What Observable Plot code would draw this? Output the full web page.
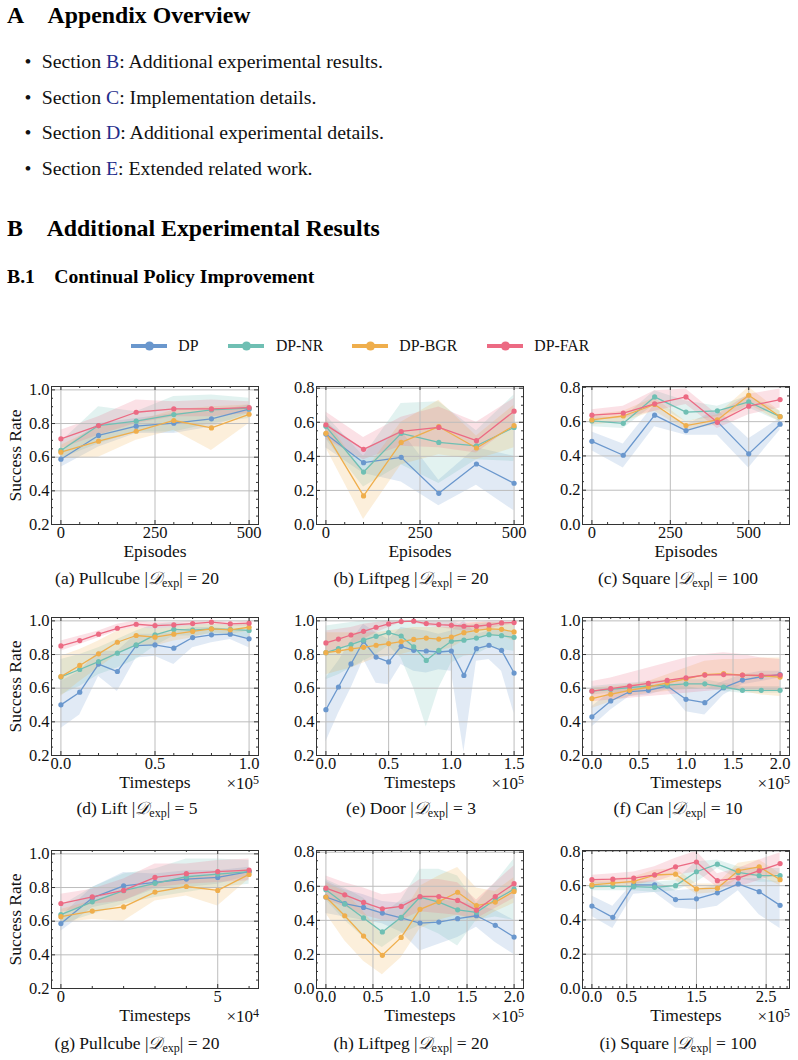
<!DOCTYPE html>
<html><head><meta charset="utf-8">
<script src="https://cdn.jsdelivr.net/npm/d3@7"></script>
<script src="https://cdn.jsdelivr.net/npm/@observablehq/plot@0.6"></script>
<style>
body{margin:0;background:#fff;}
#page{position:relative;width:798px;height:1060px;font-family:"Liberation Serif","Times New Roman",serif;color:#111;overflow:hidden;}
.abs{position:absolute;white-space:nowrap;line-height:1;}
.h1{font-weight:bold;font-size:23.8px;color:#000;}
.h2{font-weight:bold;font-size:19.7px;color:#000;}
.bl{font-size:19.8px;color:#111;}
.lk{color:#1f2d8c;}
.cap{font-size:17.5px;transform:translateX(-50%);}
.cap sub{font-size:12px;vertical-align:-3px;line-height:0;}
.mult{font-size:17px;transform:translateX(-100%);}
.mult sup{font-size:12px;vertical-align:5px;line-height:0;}
.leg{font-size:15.8px;display:flex;align-items:center;}
.leg svg{display:block;}
</style></head><body><div id="page"></div>
<script>
// ---------------- data ----------------
const seriesNames = ["DP", "DP-NR", "DP-BGR", "DP-FAR"];
const seriesColors = ["#6a97cd", "#6fbfb3", "#efae4c", "#ec6a83"];

// each entry: [mean, lower, upper]
const xA = [0, 100, 200, 300, 400, 500];
const aDP  = [[0.588,0.54,0.64],[0.729,0.66,0.80],[0.784,0.74,0.83],[0.802,0.74,0.86],[0.828,0.78,0.87],[0.885,0.86,0.91]];
const aNR  = [[0.640,0.59,0.69],[0.788,0.68,0.90],[0.814,0.75,0.87],[0.853,0.75,0.96],[0.881,0.80,0.97],[0.891,0.83,0.95]];
const aBGR = [[0.630,0.59,0.67],[0.695,0.60,0.78],[0.754,0.70,0.81],[0.818,0.76,0.88],[0.774,0.64,0.90],[0.855,0.80,0.91]];
const aFAR = [[0.709,0.65,0.76],[0.788,0.73,0.84],[0.867,0.80,0.94],[0.887,0.84,0.93],[0.887,0.84,0.94],[0.895,0.86,0.93]];

const xB = [0, 100, 200, 300, 400, 500];
const bDP  = [[0.531,0.45,0.60],[0.363,0.30,0.44],[0.394,0.25,0.55],[0.183,0.11,0.26],[0.355,0.23,0.45],[0.242,0.08,0.40]];
const bNR  = [[0.576,0.50,0.64],[0.308,0.22,0.40],[0.535,0.35,0.71],[0.482,0.24,0.72],[0.462,0.38,0.55],[0.570,0.37,0.76]];
const bBGR = [[0.535,0.45,0.62],[0.168,0.03,0.30],[0.482,0.35,0.60],[0.574,0.41,0.73],[0.449,0.38,0.52],[0.580,0.45,0.70]];
const bFAR = [[0.585,0.50,0.66],[0.441,0.38,0.51],[0.546,0.46,0.63],[0.570,0.45,0.69],[0.492,0.42,0.60],[0.665,0.58,0.74]];

const xC = [0, 100, 200, 300, 400, 500, 600];
const cDP  = [[0.485,0.43,0.54],[0.404,0.33,0.47],[0.638,0.57,0.70],[0.548,0.52,0.58],[0.600,0.52,0.67],[0.412,0.33,0.50],[0.585,0.55,0.62]];
const cNR  = [[0.604,0.57,0.63],[0.590,0.56,0.62],[0.744,0.70,0.78],[0.656,0.60,0.72],[0.663,0.63,0.69],[0.715,0.68,0.75],[0.629,0.60,0.66]];
const cBGR = [[0.610,0.58,0.64],[0.633,0.60,0.66],[0.700,0.66,0.74],[0.577,0.55,0.60],[0.610,0.58,0.64],[0.754,0.70,0.80],[0.629,0.60,0.66]];
const cFAR = [[0.638,0.61,0.67],[0.650,0.62,0.69],[0.704,0.66,0.78],[0.744,0.70,0.79],[0.596,0.56,0.64],[0.690,0.64,0.76],[0.729,0.68,0.79]];

const xD = [0, 0.1, 0.2, 0.3, 0.4, 0.5, 0.6, 0.7, 0.8, 0.9, 1.0];
const dDP  = [[0.501,0.36,0.64],[0.576,0.44,0.70],[0.743,0.67,0.82],[0.699,0.58,0.82],[0.853,0.78,0.92],[0.857,0.79,0.92],[0.838,0.74,0.93],[0.901,0.84,0.96],[0.917,0.87,0.96],[0.921,0.89,0.95],[0.893,0.84,0.94]];
const dNR  = [[0.667,0.56,0.77],[0.711,0.61,0.80],[0.758,0.68,0.84],[0.808,0.72,0.89],[0.857,0.77,0.94],[0.917,0.85,0.98],[0.949,0.91,0.99],[0.945,0.91,0.98],[0.952,0.92,0.98],[0.949,0.91,0.98],[0.943,0.90,0.98]];
const dBGR = [[0.669,0.55,0.79],[0.735,0.64,0.83],[0.804,0.72,0.88],[0.873,0.80,0.94],[0.913,0.86,0.96],[0.903,0.85,0.95],[0.921,0.88,0.96],[0.937,0.90,0.97],[0.952,0.93,0.98],[0.947,0.92,0.97],[0.962,0.94,0.98]];
const dFAR = [[0.851,0.82,0.88],[0.883,0.86,0.91],[0.921,0.90,0.94],[0.956,0.94,0.98],[0.980,0.96,1.00],[0.972,0.95,0.99],[0.976,0.96,0.99],[0.984,0.97,1.00],[0.992,0.98,1.00],[0.982,0.97,0.99],[0.986,0.97,1.00]];

const xE = [0, 0.1, 0.2, 0.3, 0.4, 0.5, 0.6, 0.7, 0.8, 0.9, 1.0, 1.1, 1.2, 1.3, 1.4, 1.5];
const eDP  = [[0.472,0.28,0.66],[0.607,0.45,0.76],[0.744,0.60,0.88],[0.879,0.77,0.98],[0.785,0.63,0.93],[0.756,0.62,0.89],[0.849,0.74,0.96],[0.825,0.70,0.95],[0.821,0.69,0.94],[0.815,0.71,0.92],[0.821,0.70,0.94],[0.676,0.22,1.00],[0.835,0.76,0.92],[0.855,0.77,0.94],[0.825,0.70,0.95],[0.690,0.45,0.93]];
const eNR  = [[0.811,0.65,0.97],[0.835,0.68,0.98],[0.859,0.72,0.99],[0.885,0.76,1.00],[0.908,0.80,1.00],[0.930,0.85,1.00],[0.910,0.78,1.00],[0.845,0.60,1.00],[0.765,0.37,1.00],[0.825,0.60,1.00],[0.879,0.75,1.00],[0.885,0.79,0.97],[0.898,0.80,0.98],[0.918,0.84,0.99],[0.912,0.83,0.99],[0.902,0.82,0.98]];
const eBGR = [[0.811,0.68,0.93],[0.821,0.70,0.93],[0.833,0.72,0.93],[0.843,0.75,0.93],[0.855,0.78,0.93],[0.865,0.79,0.94],[0.877,0.80,0.95],[0.890,0.82,0.96],[0.898,0.83,0.96],[0.892,0.82,0.96],[0.904,0.84,0.96],[0.930,0.88,0.98],[0.944,0.90,0.99],[0.952,0.91,0.99],[0.950,0.91,0.99],[0.934,0.88,0.98]];
const eFAR = [[0.869,0.80,0.94],[0.892,0.83,0.95],[0.916,0.86,0.96],[0.938,0.89,0.98],[0.962,0.93,0.99],[0.982,0.96,1.00],[0.996,0.99,1.00],[0.998,0.99,1.00],[0.984,0.97,1.00],[0.978,0.96,1.00],[0.974,0.95,1.00],[0.968,0.94,0.99],[0.968,0.94,0.99],[0.976,0.95,1.00],[0.988,0.97,1.00],[0.990,0.98,1.00]];

const xF = [0, 0.2, 0.4, 0.6, 0.8, 1.0, 1.2, 1.4, 1.6, 1.8, 2.0];
const fDP  = [[0.430,0.37,0.49],[0.524,0.47,0.58],[0.579,0.55,0.61],[0.587,0.56,0.61],[0.613,0.59,0.63],[0.534,0.46,0.61],[0.514,0.44,0.59],[0.603,0.56,0.64],[0.648,0.62,0.68],[0.668,0.64,0.70],[0.681,0.66,0.70]];
const fNR  = [[0.583,0.56,0.61],[0.593,0.57,0.62],[0.603,0.58,0.63],[0.613,0.59,0.64],[0.618,0.59,0.65],[0.626,0.60,0.65],[0.626,0.60,0.65],[0.607,0.58,0.63],[0.587,0.57,0.61],[0.587,0.57,0.61],[0.587,0.57,0.61]];
const fBGR = [[0.538,0.48,0.60],[0.564,0.52,0.61],[0.587,0.55,0.62],[0.607,0.57,0.64],[0.632,0.58,0.68],[0.656,0.59,0.72],[0.681,0.60,0.76],[0.687,0.60,0.77],[0.678,0.58,0.77],[0.674,0.56,0.78],[0.666,0.55,0.78]];
const fFAR = [[0.583,0.52,0.64],[0.597,0.53,0.66],[0.613,0.54,0.69],[0.628,0.55,0.72],[0.646,0.56,0.75],[0.662,0.57,0.78],[0.678,0.58,0.80],[0.681,0.59,0.81],[0.678,0.59,0.80],[0.676,0.59,0.78],[0.678,0.58,0.77]];

const xG = [0, 1, 2, 3, 4, 5, 6];
const gDP  = [[0.586,0.54,0.63],[0.738,0.68,0.80],[0.810,0.72,0.89],[0.831,0.79,0.88],[0.850,0.80,0.90],[0.860,0.82,0.90],[0.895,0.87,0.92]];
const gNR  = [[0.639,0.58,0.69],[0.715,0.64,0.80],[0.781,0.70,0.88],[0.825,0.74,0.91],[0.864,0.77,0.97],[0.880,0.80,0.97],[0.895,0.82,0.96]];
const gBGR = [[0.627,0.59,0.67],[0.660,0.61,0.72],[0.685,0.60,0.77],[0.773,0.72,0.83],[0.806,0.75,0.86],[0.783,0.69,0.88],[0.878,0.85,0.91]];
const gFAR = [[0.705,0.65,0.76],[0.744,0.70,0.79],[0.783,0.72,0.85],[0.860,0.80,0.94],[0.882,0.82,0.94],[0.895,0.83,0.96],[0.903,0.84,0.97]];

const xH = [0, 0.2, 0.4, 0.6, 0.8, 1.0, 1.2, 1.4, 1.6, 1.8, 2.0];
const hDP  = [[0.537,0.44,0.63],[0.498,0.42,0.58],[0.476,0.40,0.55],[0.443,0.38,0.51],[0.414,0.33,0.50],[0.384,0.22,0.54],[0.390,0.26,0.52],[0.410,0.30,0.51],[0.427,0.36,0.49],[0.371,0.27,0.46],[0.302,0.20,0.40]];
const hNR  = [[0.580,0.52,0.64],[0.496,0.40,0.59],[0.414,0.30,0.53],[0.332,0.24,0.43],[0.418,0.32,0.52],[0.537,0.37,0.70],[0.507,0.32,0.70],[0.462,0.25,0.66],[0.447,0.40,0.50],[0.521,0.42,0.62],[0.583,0.40,0.76]];
const hBGR = [[0.537,0.44,0.62],[0.427,0.28,0.57],[0.308,0.16,0.45],[0.195,0.08,0.32],[0.300,0.18,0.42],[0.465,0.35,0.60],[0.510,0.40,0.66],[0.565,0.43,0.71],[0.486,0.39,0.59],[0.507,0.45,0.57],[0.570,0.50,0.65]];
const hFAR = [[0.589,0.52,0.66],[0.550,0.48,0.62],[0.505,0.43,0.59],[0.468,0.40,0.55],[0.482,0.40,0.56],[0.540,0.45,0.64],[0.540,0.44,0.64],[0.517,0.43,0.62],[0.460,0.41,0.52],[0.540,0.47,0.62],[0.615,0.53,0.72]];

const xI = [0, 0.3, 0.6, 0.9, 1.2, 1.5, 1.8, 2.1, 2.4, 2.7];
const iDP  = [[0.481,0.42,0.54],[0.415,0.35,0.48],[0.604,0.55,0.62],[0.604,0.56,0.63],[0.519,0.47,0.57],[0.523,0.46,0.58],[0.558,0.48,0.60],[0.610,0.57,0.64],[0.565,0.43,0.64],[0.485,0.35,0.62]];
const iNR  = [[0.596,0.57,0.62],[0.596,0.57,0.62],[0.594,0.57,0.62],[0.590,0.56,0.62],[0.600,0.57,0.63],[0.681,0.62,0.74],[0.725,0.70,0.75],[0.677,0.64,0.71],[0.658,0.62,0.70],[0.658,0.62,0.70]];
const iBGR = [[0.604,0.58,0.63],[0.615,0.59,0.64],[0.625,0.60,0.65],[0.662,0.63,0.69],[0.667,0.63,0.70],[0.581,0.55,0.61],[0.585,0.56,0.61],[0.687,0.64,0.73],[0.710,0.66,0.75],[0.635,0.60,0.67]];
const iFAR = [[0.635,0.61,0.66],[0.638,0.61,0.67],[0.644,0.61,0.68],[0.663,0.62,0.71],[0.710,0.66,0.76],[0.738,0.68,0.80],[0.629,0.59,0.67],[0.644,0.59,0.70],[0.687,0.63,0.75],[0.729,0.67,0.79]];

// tick labels
const xTicksEp = [0, 250, 500];
const xTicks10 = [0, 0.5, 1.0];
const xTicks15 = [0, 0.5, 1.0, 1.5];
const xTicks20 = [0, 0.5, 1.0, 1.5, 2.0];
const xTicksG = [0, 5];
const xTicksI = [0, 0.5, 1.5, 2.5];
const yTicksHi = [0.2, 0.4, 0.6, 0.8, 1.0];
const yTicksLo = [0.0, 0.2, 0.4, 0.6, 0.8];

const captionLetters = ["a","b","c","d","e","f","g","h","i"];
const captionTasks = ["Pullcube","Liftpeg","Square","Lift","Door","Can","Pullcube","Liftpeg","Square"];
const captionSizes = [20, 20, 100, 5, 3, 10, 20, 20, 100];
const xLabels = ["Episodes","Episodes","Episodes","Timesteps","Timesteps","Timesteps","Timesteps","Timesteps","Timesteps"];
const multipliers = [null, null, null, 5, 5, 5, 4, 5, 5];

// ---------------- layout ----------------
const SERIF = '"Liberation Serif","Times New Roman",serif';
const W = 207, H = 138, ML = 51, MR = 9, MT = 8, MB = 45;
const colLeft = [51, 316, 582];
const rowTop = [386, 617, 850];
const capX = [137, 411, 678];
const capY = [579, 809, 1044];

const fmtInt = d3.format("d"), fmt1 = d3.format(".1f");
const panels = [
  {x: xA, s: [aDP,aNR,aBGR,aFAR], xd: [-25,525], xt: xTicksEp, xf: fmtInt, xm: 50, yd: [0.2,1.02], yt: yTicksHi},
  {x: xB, s: [bDP,bNR,bBGR,bFAR], xd: [-25,525], xt: xTicksEp, xf: fmtInt, xm: 50, yd: [0,0.81], yt: yTicksLo},
  {x: xC, s: [cDP,cNR,cBGR,cFAR], xd: [-30,630], xt: xTicksEp, xf: fmtInt, xm: 50, yd: [0,0.805], yt: yTicksLo},
  {x: xD, s: [dDP,dNR,dBGR,dFAR], xd: [-0.05,1.05], xt: xTicks10, xf: fmt1, xm: 0.1, yd: [0.2,1.02], yt: yTicksHi},
  {x: xE, s: [eDP,eNR,eBGR,eFAR], xd: [-0.075,1.575], xt: xTicks15, xf: fmt1, xm: 0.1, yd: [0.2,1.02], yt: yTicksHi},
  {x: xF, s: [fDP,fNR,fBGR,fFAR], xd: [-0.1,2.1], xt: xTicks20, xf: fmt1, xm: 0.1, yd: [0.2,1.02], yt: yTicksHi},
  {x: xG, s: [gDP,gNR,gBGR,gFAR], xd: [-0.3,6.3], xt: xTicksG, xf: fmtInt, xm: 1, yd: [0.2,1.02], yt: yTicksHi},
  {x: xH, s: [hDP,hNR,hBGR,hFAR], xd: [-0.1,2.1], xt: xTicks20, xf: fmt1, xm: 0.1, yd: [0,0.81], yt: yTicksLo},
  {x: xI, s: [iDP,iNR,iBGR,iFAR], xd: [-0.135,2.835], xt: xTicksI, xf: fmt1, xm: 0.1, yd: [0,0.805], yt: yTicksLo}
];

const page = document.getElementById("page");
function addDiv(cls, html, left, top) {
  const d = document.createElement("div");
  d.className = "abs " + cls;
  d.innerHTML = html;
  d.style.left = left + "px";
  d.style.top = top + "px";
  page.appendChild(d);
  return d;
}

// headings and list
addDiv("h1", "A", 7, 3.5);
addDiv("h1", "Appendix Overview", 47.5, 3.5);
const bullets = [["B","Additional experimental results."],["C","Implementation details."],["D","Additional experimental details."],["E","Extended related work."]];
const bulletTops = [52.2, 87.9, 123.2, 158.9];
bullets.forEach(([k, t], i) => {
  addDiv("bl", "•", 24.5, bulletTops[i]);
  addDiv("bl", `Section <span class="lk">${k}</span>: ${t}`, 41.7, bulletTops[i]);
});
addDiv("h1", "B", 7, 216.5);
addDiv("h1", "Additional Experimental Results", 46.7, 216.5);
addDiv("h2", "B.1", 7, 267.2);
addDiv("h2", "Continual Policy Improvement", 54.3, 267.2);

// legend
const legLeft = [130.7, 228.3, 351.7, 486.7];
seriesNames.forEach((name, i) => {
  const d = addDiv("leg", "", legLeft[i], 337);
  const ns = "http://www.w3.org/2000/svg";
  const svg = document.createElementNS(ns, "svg");
  svg.setAttribute("width", 36); svg.setAttribute("height", 18);
  svg.innerHTML = `<line x1="0" x2="36" y1="9" y2="9" stroke="${seriesColors[i]}" stroke-width="3.8"/><circle cx="18.5" cy="9" r="4.6" fill="${seriesColors[i]}"/>`;
  d.appendChild(svg);
  const s = document.createElement("span");
  s.style.marginLeft = "11.6px";
  s.textContent = name;
  d.appendChild(s);
});

// panels
panels.forEach((p, k) => {
  const col = k % 3, row = Math.floor(k / 3);
  const rows = [];
  seriesNames.forEach((name, si) => p.s[si].forEach((t, i) => rows.push({name, x: p.x[i], y: t[0], lo: t[1], hi: t[2]})));
  const xMinor = d3.range(Math.ceil(p.xd[0] / p.xm) * p.xm, p.xd[1], p.xm).filter(v => !p.xt.some(t => Math.abs(t - v) < 1e-9));
  const yMinor = d3.range(p.yd[0], p.yd[1], 0.05).filter(v => !p.yt.some(t => Math.abs(t - v) < 1e-9));
  const tickStroke = "#333";
  const marks = [
    Plot.areaY(rows, {x: "x", y1: "lo", y2: "hi", fill: "name", fillOpacity: 0.2, clip: true}),
    Plot.ruleX(p.xt, {stroke: "#bdbdbd", strokeWidth: 1}),
    Plot.ruleY(p.yt, {stroke: "#bdbdbd", strokeWidth: 1}),
    Plot.lineY(rows, {x: "x", y: "y", stroke: "name", strokeWidth: 1.3}),
    Plot.dot(rows, {x: "x", y: "y", fill: "name", r: 2.6}),
    Plot.tickX(p.xt, {x: d => d, insetTop: H - 4, stroke: tickStroke}),
    Plot.tickX(p.xt, {x: d => d, insetBottom: H - 4, stroke: tickStroke}),
    Plot.tickX(xMinor, {x: d => d, insetTop: H - 2, stroke: tickStroke}),
    Plot.tickX(xMinor, {x: d => d, insetBottom: H - 2, stroke: tickStroke}),
    Plot.tickY(p.yt, {y: d => d, insetRight: W - 4, stroke: tickStroke}),
    Plot.tickY(p.yt, {y: d => d, insetLeft: W - 4, stroke: tickStroke}),
    Plot.tickY(yMinor, {y: d => d, insetRight: W - 2, stroke: tickStroke}),
    Plot.tickY(yMinor, {y: d => d, insetLeft: W - 2, stroke: tickStroke}),
    Plot.frame({stroke: "#333", strokeWidth: 1}),
    Plot.axisX(p.xt, {tickSize: 0, tickPadding: 2, tickFormat: p.xf, label: null, fontSize: 16.5}),
    Plot.axisY(p.yt, {tickSize: 0, tickPadding: 2, tickFormat: fmt1, label: null, fontSize: 16.5}),
    Plot.text([xLabels[k]], {text: d => d, frameAnchor: "bottom", lineAnchor: "middle", dy: 27, fontSize: 17.5})
  ];
  if (col === 0) marks.push(Plot.text(["Success Rate"], {text: d => d, frameAnchor: "left", lineAnchor: "middle", rotate: -90, textAnchor: "middle", dx: -36, fontSize: 17.5}));
  const svg = Plot.plot({
    width: ML + W + MR, height: MT + H + MB,
    marginLeft: ML, marginRight: MR, marginTop: MT, marginBottom: MB,
    style: {fontFamily: SERIF, fontSize: "16.5px", color: "#111", background: "none", overflow: "visible"},
    x: {domain: p.xd},
    y: {domain: p.yd},
    color: {domain: seriesNames, range: seriesColors},
    marks
  });
  svg.style.position = "absolute";
  svg.style.left = (colLeft[col] - ML) + "px";
  svg.style.top = (rowTop[row] - MT) + "px";
  page.appendChild(svg);

  if (multipliers[k]) {
    addDiv("mult", `×10<sup>${multipliers[k]}</sup>`, colLeft[col] + W + 1, rowTop[row] + H + 20);
  }
  addDiv("cap", `(${captionLetters[k]}) ${captionTasks[k]} |<i>𝒟</i><sub>exp</sub>| = ${captionSizes[k]}`, capX[col], capY[row] - 9);
});
</script></body></html>
